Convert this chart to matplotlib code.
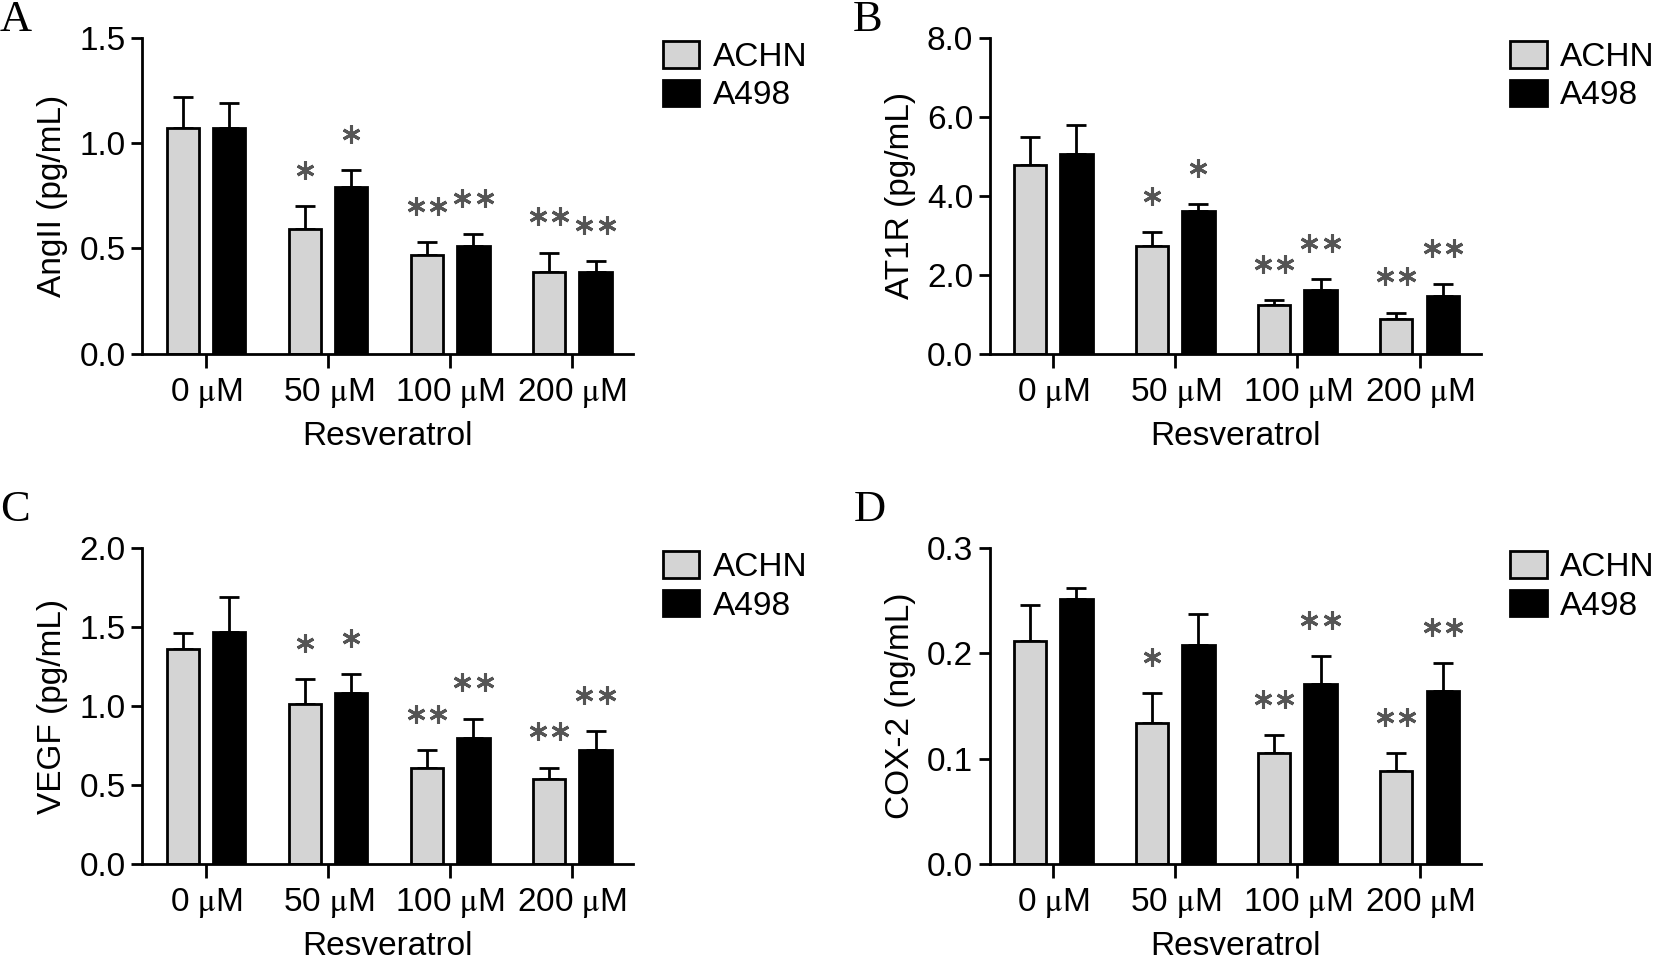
import numpy as np
import matplotlib
matplotlib.use('Agg')
import matplotlib.pyplot as plt
from matplotlib.transforms import offset_copy

plt.rcParams['font.family'] = ['Liberation Sans', 'DejaVu Sans']
plt.rcParams['mathtext.fontset'] = 'stix'

doses = ['0 $\\mathrm{\\mu}$M', '50 $\\mathrm{\\mu}$M', '100 $\\mathrm{\\mu}$M', '200 $\\mathrm{\\mu}$M']
series = ['ACHN', 'A498']

# panel data: mean and upper error (SD)
angII_achn = [1.07, 0.59, 0.47, 0.39]
angII_achn_err = [0.15, 0.11, 0.06, 0.09]
angII_a498 = [1.07, 0.79, 0.51, 0.39]
angII_a498_err = [0.12, 0.08, 0.06, 0.05]
angII_stars = [['', '*', '**', '**'], ['', '*', '**', '**']]

at1r_achn = [4.79, 2.73, 1.23, 0.88]
at1r_achn_err = [0.69, 0.34, 0.13, 0.16]
at1r_a498 = [5.05, 3.61, 1.60, 1.47]
at1r_a498_err = [0.75, 0.19, 0.30, 0.29]
at1r_stars = [['', '*', '**', '**'], ['', '*', '**', '**']]

vegf_achn = [1.36, 1.01, 0.61, 0.54]
vegf_achn_err = [0.10, 0.16, 0.11, 0.07]
vegf_a498 = [1.47, 1.08, 0.80, 0.72]
vegf_a498_err = [0.22, 0.12, 0.12, 0.12]
vegf_stars = [['', '*', '**', '**'], ['', '*', '**', '**']]

cox2_achn = [0.212, 0.134, 0.105, 0.088]
cox2_achn_err = [0.034, 0.028, 0.017, 0.017]
cox2_a498 = [0.252, 0.208, 0.171, 0.164]
cox2_a498_err = [0.010, 0.029, 0.026, 0.027]
cox2_stars = [['', '*', '**', '**'], ['', '', '**', '**']]

panels = [
    ('A', 'AngII (pg/mL)', angII_achn, angII_achn_err, angII_a498, angII_a498_err, angII_stars,
     1.5, [0.0, 0.5, 1.0, 1.5], '%.1f'),
    ('B', 'AT1R (pg/mL)', at1r_achn, at1r_achn_err, at1r_a498, at1r_a498_err, at1r_stars,
     8.0, [0.0, 2.0, 4.0, 6.0, 8.0], '%.1f'),
    ('C', 'VEGF (pg/mL)', vegf_achn, vegf_achn_err, vegf_a498, vegf_a498_err, vegf_stars,
     2.0, [0.0, 0.5, 1.0, 1.5, 2.0], '%.1f'),
    ('D', 'COX-2 (ng/mL)', cox2_achn, cox2_achn_err, cox2_a498, cox2_a498_err, cox2_stars,
     0.3, [0.0, 0.1, 0.2, 0.3], '%.1f'),
]

positions = [
    [0.0861, 0.632, 0.2966, 0.3286],
    [0.598, 0.632, 0.2966, 0.3286],
    [0.0861, 0.1011, 0.2966, 0.3286],
    [0.598, 0.1011, 0.2966, 0.3286],
]
letter_pos = [(0.0, 0.958), (0.515, 0.958), (0.0, 0.449), (0.516, 0.449)]

fig = plt.figure(figsize=(16.55, 9.61), dpi=100)

x = np.arange(len(doses))
w = 0.265
off = 0.19
star_color = '#555555'

for (letter, ylab, m1, e1, m2, e2, stars, ymax, yt, fmt), pos, lp in zip(panels, positions, letter_pos):
    ax = fig.add_axes(pos)
    ax.bar(x - off, m1, w, color='#d4d4d4', edgecolor='black', linewidth=2, label=series[0], zorder=2)
    ax.bar(x + off, m2, w, color='black', edgecolor='black', linewidth=2, label=series[1], zorder=2)
    ax.errorbar(x - off, m1, yerr=[np.zeros(len(m1)), e1], fmt='none', ecolor='black',
                elinewidth=2, capsize=7, capthick=2, zorder=1)
    ax.errorbar(x + off, m2, yerr=[np.zeros(len(m2)), e2], fmt='none', ecolor='black',
                elinewidth=2, capsize=7, capthick=2, zorder=1)

    # significance asterisks above the error bars
    for k, (means, errs, sgn) in enumerate([(m1, e1, -1), (m2, e2, 1)]):
        for i in range(len(doses)):
            s = stars[k][i]
            if not s:
                continue
            xs = x[i] + sgn * off
            top = means[i] + errs[i]
            n = len(s)
            for j in range(n):
                dx = (j - (n - 1) / 2) * 16
                tr = offset_copy(ax.transData, fig=fig, x=dx, y=26, units='points')
                ax.plot([xs], [top], marker=(6, 2, 0), markersize=13, markeredgewidth=2.2,
                        color=star_color, transform=tr, clip_on=False)

    ax.set_xlim(-0.52, 3.5)
    ax.set_ylim(0, ymax)
    ax.set_yticks(yt)
    ax.set_yticklabels([fmt % v for v in yt])
    ax.set_xticks(x)
    ax.set_xticklabels(doses)
    ax.spines['top'].set_visible(False)
    ax.spines['right'].set_visible(False)
    ax.spines['left'].set_linewidth(2)
    ax.spines['bottom'].set_linewidth(2)
    ax.tick_params(axis='both', width=2, length=8, labelsize=24)
    ax.tick_params(axis='x', length=10, pad=6)
    ax.tick_params(axis='y', pad=4)
    ax.set_ylabel(ylab, fontsize=24, labelpad=8)
    ax.set_xlabel('Resveratrol', fontsize=24, labelpad=8)
    ax.legend(loc='upper left', bbox_to_anchor=(1.06, 0.99), frameon=False, fontsize=24,
              handlelength=1.1, handleheight=0.85, handletextpad=0.4, labelspacing=0.2,
              borderaxespad=0, borderpad=0)
    fig.text(lp[0], lp[1], letter, fontsize=32, family='Liberation Serif', va='bottom', ha='left')

fig.savefig('out.png', dpi=100)
